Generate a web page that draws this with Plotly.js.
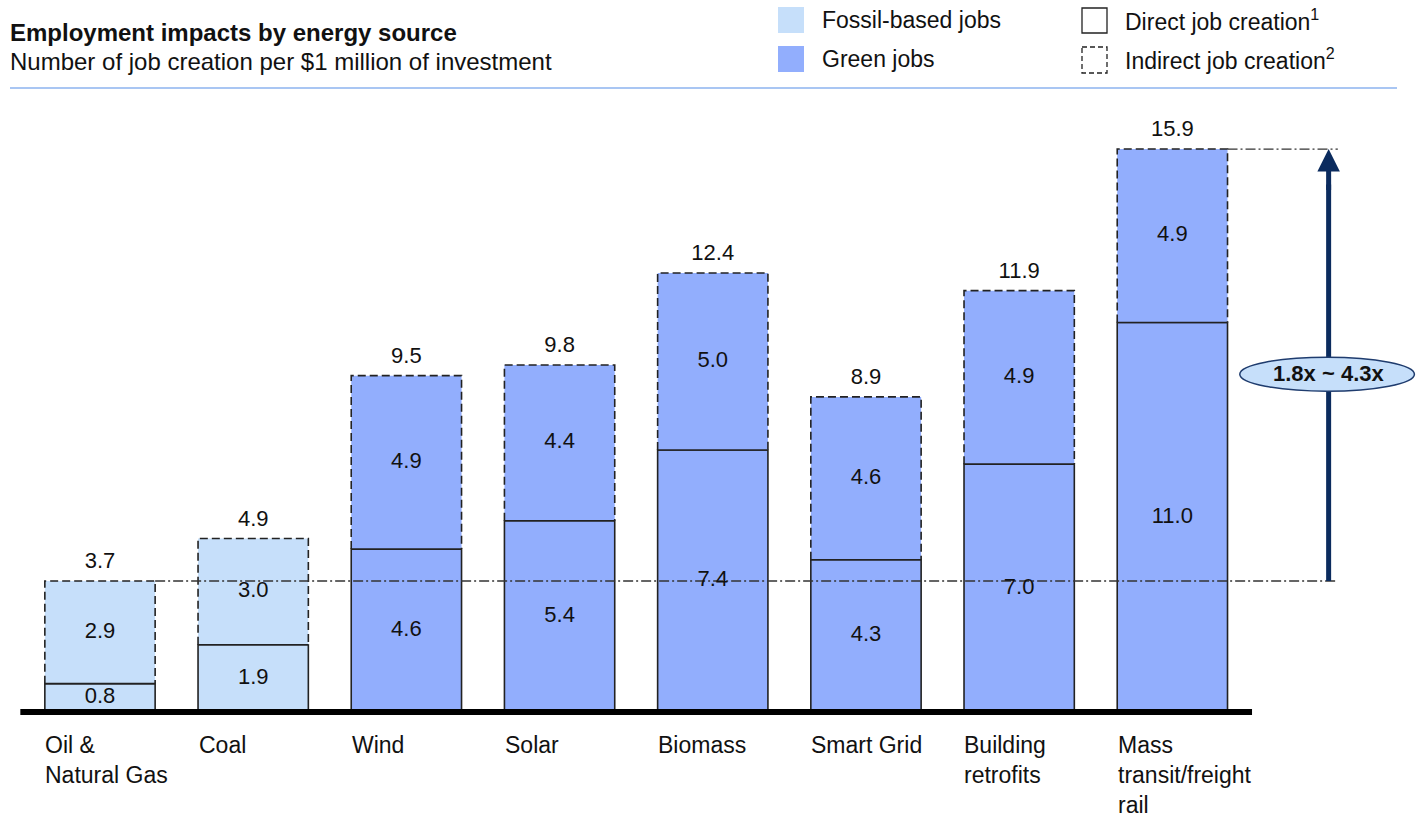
<!DOCTYPE html>
<html>
<head>
<meta charset="utf-8">
<script src="https://cdn.plot.ly/plotly-3.0.1.min.js"></script>
<style>html,body{margin:0;padding:0;background:#fff;}#chart{width:1423px;height:815px;}</style>
</head>
<body>
<div id="chart"></div>
<script>
// ---- data ----
const categories = ["Oil &<br>Natural Gas", "Coal", "Wind", "Solar", "Biomass", "Smart Grid", "Building<br>retrofits", "Mass<br>transit/freight<br>rail"];
const jobType = ["fossil", "fossil", "green", "green", "green", "green", "green", "green"];
const directJobs = [0.8, 1.9, 4.6, 5.4, 7.4, 4.3, 7.0, 11.0];
const indirectJobs = [2.9, 3.0, 4.9, 4.4, 5.0, 4.6, 4.9, 4.9];
const totalJobs = [3.7, 4.9, 9.5, 9.8, 12.4, 8.9, 11.9, 15.9];
const ratioLabel = "1.8x ~ 4.3x";

// ---- style ----
const W = 1423, H = 815;
const FONT = "Liberation Sans, Arial, sans-serif";
const colFossil = "#c6dffa";
const colGreen = "#92aefd";
const edge = "#222";
const navy = "#0b2b5e";
const barW = 0.72;
const idx = categories.map((_, i) => i);
const colors = jobType.map(t => t === "fossil" ? colFossil : colGreen);
const px = v => v / W, py = v => 1 - v / H;

const traces = [];
// direct (solid outline)
traces.push({
  type: "bar", x: idx, y: directJobs, base: 0, width: barW,
  marker: {color: colors, line: {color: edge, width: 1.6}},
  hoverinfo: "skip", showlegend: false
});
// indirect (fill only)
traces.push({
  type: "bar", x: idx, y: indirectJobs, base: directJobs, width: barW,
  marker: {color: colors, line: {width: 0}},
  hoverinfo: "skip", showlegend: false
});
// dashed outline of indirect segments
const ox = [], oy = [];
idx.forEach(i => {
  const x0 = i - barW / 2, x1 = i + barW / 2, b = directJobs[i], t = directJobs[i] + indirectJobs[i];
  ox.push(x0, x0, x1, x1, null);
  oy.push(b, t, t, b, null);
});
traces.push({type: "scatter", mode: "lines", x: ox, y: oy,
  line: {color: edge, width: 1.6, dash: "8px,4px"}, hoverinfo: "skip", showlegend: false});
// solid separator at top of direct segment
const sx = [], sy = [];
idx.forEach(i => { sx.push(i - barW / 2, i + barW / 2, null); sy.push(directJobs[i], directJobs[i], null); });
traces.push({type: "scatter", mode: "lines", x: sx, y: sy,
  line: {color: edge, width: 1.6}, hoverinfo: "skip", showlegend: false});
// reference dash-dot lines
const last = categories.length - 1;
const arrowX = 8.02;
traces.push({type: "scatter", mode: "lines",
  x: [0 + barW / 2, arrowX + 0.06], y: [totalJobs[0], totalJobs[0]],
  line: {color: "#333", width: 1.3, dash: "10px,3px,2px,3px"}, hoverinfo: "skip", showlegend: false});
traces.push({type: "scatter", mode: "lines",
  x: [last + barW / 2, arrowX + 0.06], y: [totalJobs[last], totalJobs[last]],
  line: {color: "#333", width: 1.3, dash: "10px,3px,2px,3px"}, hoverinfo: "skip", showlegend: false});
// arrow shaft (under the ellipse)
traces.push({type: "scatter", mode: "lines", x: [arrowX, arrowX], y: [totalJobs[0], totalJobs[last] - 1],
  line: {color: navy, width: 5}, hoverinfo: "skip", showlegend: false});
// segment labels
const lblFont = {family: FONT, size: 22, color: "#111"};
traces.push({type: "scatter", mode: "text", x: idx, y: directJobs.map(v => v / 2),
  text: directJobs.map(v => v.toFixed(1)), textposition: "middle center",
  textfont: lblFont, hoverinfo: "skip", showlegend: false});
traces.push({type: "scatter", mode: "text", x: idx, y: directJobs.map((d, i) => d + indirectJobs[i] / 2),
  text: indirectJobs.map(v => v.toFixed(1)), textposition: "middle center",
  textfont: lblFont, hoverinfo: "skip", showlegend: false});
traces.push({type: "scatter", mode: "text", x: idx, y: totalJobs.map(v => v + 0.52),
  text: totalJobs.map(v => v.toFixed(1)), textposition: "middle center",
  textfont: lblFont, hoverinfo: "skip", showlegend: false});

const annotations = [];
// category labels
idx.forEach(i => {
  annotations.push({x: i - barW / 2 - 0.01, y: -0.5, xref: "x", yref: "y", xanchor: "left", yanchor: "top",
    text: categories[i], showarrow: false, align: "left",
    font: {family: FONT, size: 23, color: "#111"}});
});
// title
annotations.push({x: px(8), y: py(33), xref: "paper", yref: "paper", xanchor: "left", yanchor: "middle",
  text: "<b>Employment impacts by energy source</b>", showarrow: false, font: {family: FONT, size: 24, color: "#111"}});
annotations.push({x: px(8), y: py(61), xref: "paper", yref: "paper", xanchor: "left", yanchor: "middle",
  text: "Number of job creation per $1 million of investment", showarrow: false, font: {family: FONT, size: 24, color: "#111"}});
// legend texts
const legendItems = [
  {x: 820, y: 20, t: "Fossil-based jobs"},
  {x: 820, y: 59, t: "Green jobs"},
  {x: 1123, y: 20, t: "Direct job creation<sup>1</sup>"},
  {x: 1123, y: 59, t: "Indirect job creation<sup>2</sup>"}
];
legendItems.forEach(l => annotations.push({x: px(l.x), y: py(l.y), xref: "paper", yref: "paper",
  xanchor: "left", yanchor: "middle", text: l.t, showarrow: false, font: {family: FONT, size: 23, color: "#111"}}));
// arrow head
annotations.push({x: arrowX, y: totalJobs[last], ax: arrowX, ay: totalJobs[last] - 1.2, xref: "x", yref: "y",
  axref: "x", ayref: "y", text: "", showarrow: true, arrowhead: 2, arrowsize: 0.9, arrowwidth: 5,
  arrowcolor: navy, standoff: 0, startstandoff: 0});
// ratio label
annotations.push({x: arrowX, y: 9.55, xref: "x", yref: "y", text: "<b>" + ratioLabel + "</b>", showarrow: false,
  font: {family: FONT, size: 22, color: "#111"}});

const shapes = [
  // separator
  {type: "line", xref: "paper", yref: "paper", x0: px(10), x1: px(1397), y0: py(88), y1: py(88),
    line: {color: "#a9c6f3", width: 2}},
  // legend swatches
  {type: "rect", xref: "paper", yref: "paper", x0: px(778), x1: px(804), y0: py(7), y1: py(33),
    fillcolor: colFossil, line: {width: 0}},
  {type: "rect", xref: "paper", yref: "paper", x0: px(778), x1: px(804), y0: py(46), y1: py(72),
    fillcolor: colGreen, line: {width: 0}},
  {type: "rect", xref: "paper", yref: "paper", x0: px(1082), x1: px(1107), y0: py(8), y1: py(33),
    fillcolor: "#fff", line: {color: edge, width: 1.3}},
  {type: "rect", xref: "paper", yref: "paper", x0: px(1082), x1: px(1107), y0: py(47), y1: py(73),
    fillcolor: "#fff", line: {color: edge, width: 1.3, dash: "5px,3px"}},
  // ratio ellipse
  {type: "circle", xref: "x", yref: "y", x0: 7.44, x1: 8.58, y0: 9.06, y1: 10.02,
    fillcolor: colFossil, line: {color: "#1f3c6e", width: 1.5}, layer: "above"},
  // baseline
  {type: "line", xref: "x", yref: "y", x0: -0.52, x1: 7.52, y0: 0, y1: 0,
    line: {color: "#000", width: 6}, layer: "above"}
];

const layout = {
  width: W, height: H,
  margin: {l: 0, r: 0, t: 0, b: 0, pad: 0},
  paper_bgcolor: "#fff", plot_bgcolor: "#fff",
  barmode: "overlay",
  xaxis: {range: [-0.6527, 8.636], visible: false, fixedrange: true},
  yaxis: {range: [-2.91, 20.11], visible: false, fixedrange: true},
  showlegend: false,
  annotations: annotations,
  shapes: shapes
};

Plotly.newPlot("chart", traces, layout, {displayModeBar: false, staticPlot: true});
</script>
</body>
</html>
